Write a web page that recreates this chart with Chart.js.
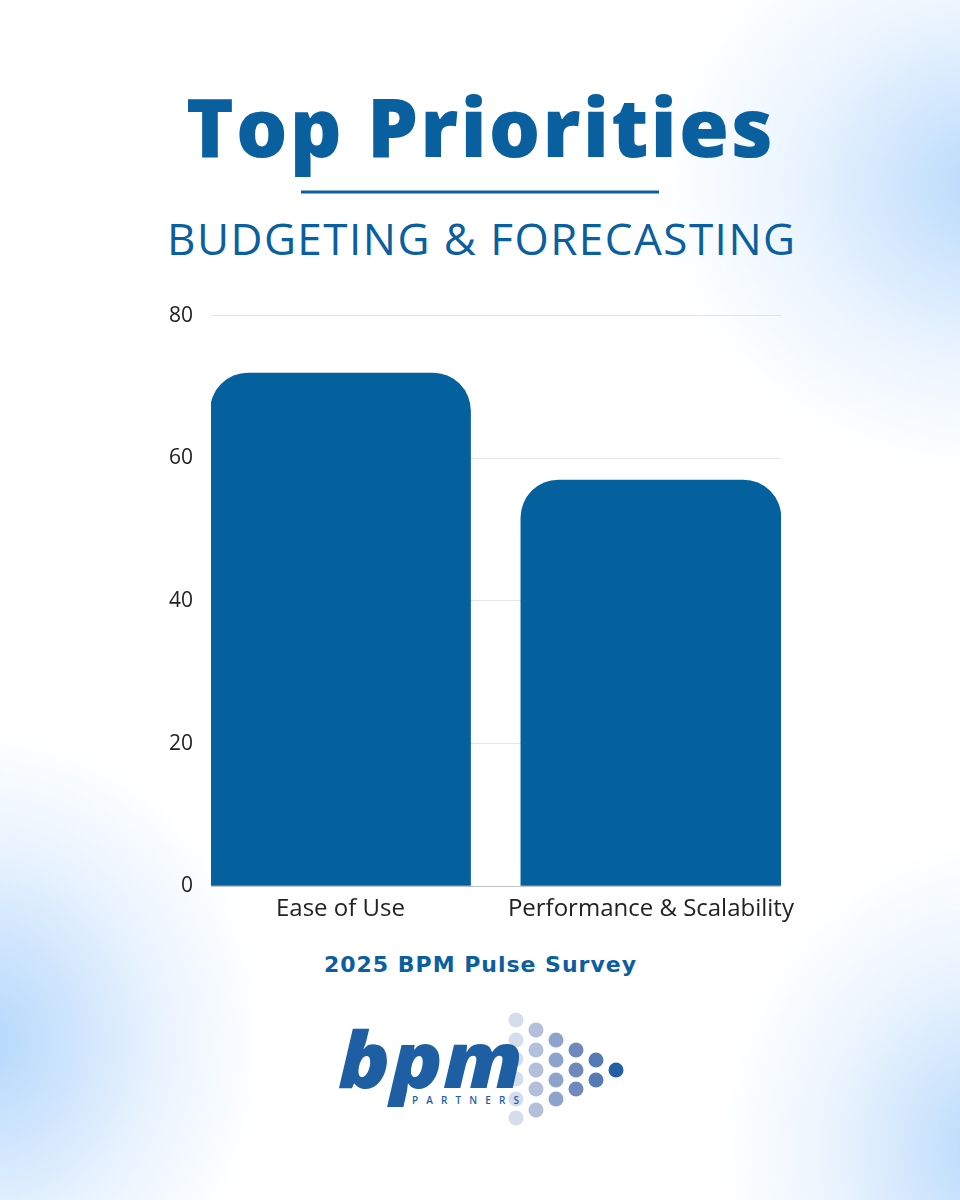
<!DOCTYPE html>
<html>
<head>
<meta charset="utf-8">
<script src="https://cdn.jsdelivr.net/npm/chart.js@4.4.1/dist/chart.umd.min.js"></script>
<style>
html,body{margin:0;padding:0;}
body{
  width:960px;height:1200px;position:relative;overflow:hidden;
  background:
    radial-gradient(ellipse 330px 290px at 990px 185px, #b6d9fb 0%, #d2e7fd 30%, #ecf5fe 62%, rgba(255,255,255,0) 100%),
    radial-gradient(ellipse 280px 310px at -15px 1040px, #b3d8fb 0%, #cfe5fd 32%, #eaf4fe 64%, rgba(255,255,255,0) 100%),
    radial-gradient(ellipse 270px 310px at 990px 1150px, #b6d9fb 0%, #d2e7fd 30%, #ecf5fe 62%, rgba(255,255,255,0) 100%),
    #ffffff;
}
#deco{position:absolute;left:0;top:0;}
#chartWrap{position:absolute;left:0;top:285px;width:960px;height:665px;}
</style>
</head>
<body>
<svg id="deco" width="960" height="1200" xmlns="http://www.w3.org/2000/svg">
  <text x="186" y="157" font-family="Open Sans" font-weight="800" font-size="81" fill="#0a5f9e" textLength="587" lengthAdjust="spacing">Top Priorities</text>
  <line x1="301" y1="192" x2="659" y2="192" stroke="#0a5f9e" stroke-width="3"/>
  <text x="167" y="255" font-family="Open Sans" font-weight="400" font-size="44" fill="#0a5f9e" textLength="628" lengthAdjust="spacing">BUDGETING &amp; FORECASTING</text>
  <text id="footer" x="324" y="972" font-family="DejaVu Sans" font-weight="bold" font-size="22" fill="#0b5e9f" textLength="312" lengthAdjust="spacing"></text>
  <g id="dots"></g>
  <text x="338" y="1088" font-family="Open Sans" font-weight="800" font-style="italic" font-size="78" fill="#1d5fa2" textLength="185" lengthAdjust="spacingAndGlyphs">bpm</text>
  <text x="412" y="1104" font-family="Open Sans" font-weight="600" font-size="10" fill="#1d5fa2" textLength="107" lengthAdjust="spacing">PARTNERS</text>
</svg>
<div id="chartWrap"><canvas id="c" width="960" height="665"></canvas></div>
<script>
const categories = ['Ease of Use', 'Performance & Scalability'];
const values = [72, 57];
const yMin = 0, yMax = 80, yStep = 20;
const footerText = '2025 BPM Pulse Survey';

document.getElementById('footer').textContent = footerText;

// logo dots (decorative)
(function(){
  const cols = [
    {x:516, ys:[1020,1040,1059,1079,1099,1118], c:'#d5dcec'},
    {x:536, ys:[1030,1050,1070,1089,1110], c:'#b2c0dc'},
    {x:556, ys:[1040,1060,1080,1099], c:'#8ea3cc'},
    {x:576, ys:[1050,1070,1089], c:'#6f89bc'},
    {x:596, ys:[1060,1080], c:'#557ab4'},
    {x:616, ys:[1070], c:'#2260a6'}
  ];
  const g = document.getElementById('dots');
  cols.forEach(col => col.ys.forEach(y => {
    const ci = document.createElementNS('http://www.w3.org/2000/svg','circle');
    ci.setAttribute('cx', col.x); ci.setAttribute('cy', y); ci.setAttribute('r', 7.5);
    ci.setAttribute('fill', col.c); g.appendChild(ci);
  }));
})();

function fitSize(text, family, weight, target, base){
  const c = document.createElement('canvas').getContext('2d');
  c.font = weight + ' ' + base + 'px "' + family + '"';
  return base * target / c.measureText(text).width;
}
const tickSize = Math.min(24, fitSize('Performance & Scalability', 'Open Sans', '400', 289, 20));

new Chart(document.getElementById('c'), {
  type: 'bar',
  data: {
    datasets: [{
      data: categories.map((c, i) => ({x: i, y: values[i]})),
      backgroundColor: '#04619e',
      borderRadius: 38,
      borderSkipped: 'start',
      barPercentage: 0.84,
      categoryPercentage: 1
    }]
  },
  options: {
    responsive: false,
    animation: false,
    layout: { padding: { left: 0, right: 179, top: 10, bottom: 0 } },
    plugins: {
      legend: { display: false },
      tooltip: { enabled: false }
    },
    scales: {
      x: {
        type: 'linear', offset: false, min: -0.417, max: 1.419,
        afterBuildTicks: s => { s.ticks = categories.map((c, i) => ({ value: i })); },
        afterFit: s => { s.height = 665 - 601.3; },
        grid: { display: false },
        border: { display: false },
        ticks: {
          callback: v => categories[v],
          color: '#222222', padding: 0, maxRotation: 0, autoSkip: false,
          font: { family: 'Open Sans', size: tickSize }
        }
      },
      y: {
        min: yMin, max: yMax,
        afterFit: s => { s.width = 211; },
        grid: { drawTicks: false, color: c => c.tick.value === 0 ? '#c2c2c2' : '#e4e4e4', lineWidth: 1 },
        border: { display: false },
        ticks: { stepSize: yStep, padding: 18, color: '#222222', font: { family: 'Open Sans', size: 21 } }
      }
    }
  }
});
</script>
</body>
</html>
